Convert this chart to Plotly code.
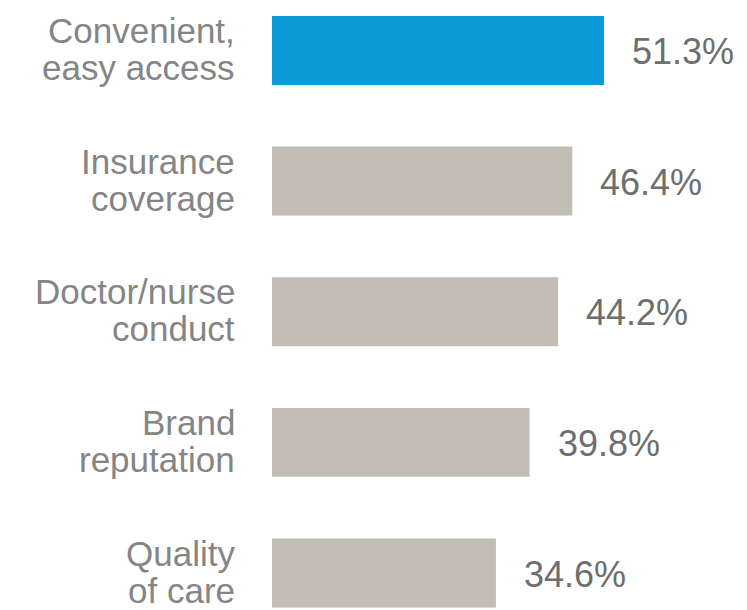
import plotly.graph_objects as go

categories = ["Convenient, easy access", "Insurance coverage", "Doctor/nurse conduct",
              "Brand reputation", "Quality of care"]
label_lines = [["Convenient,", "easy access"], ["Insurance", "coverage"],
               ["Doctor/nurse", "conduct"], ["Brand", "reputation"], ["Quality", "of care"]]
values = [51.3, 46.4, 44.2, 39.8, 34.6]
value_labels = ["51.3%", "46.4%", "44.2%", "39.8%", "34.6%"]
bar_colors = ["#0a9bd8", "#c1bcb4", "#c1bcb4", "#c1bcb4", "#c1bcb4"]

FONT = "Liberation Sans, Arial, sans-serif"

fig = go.Figure(go.Bar(
    x=values, y=categories, orientation="h",
    marker=dict(color=bar_colors, line=dict(width=0)),
    hoverinfo="skip",
))

annotations = []
for cat, lines, val, vl in zip(categories, label_lines, values, value_labels):
    annotations.append(dict(x=0, y=cat, xref="x", yref="y", text=lines[0], showarrow=False,
                            xanchor="right", yanchor="middle", xshift=-35, yshift=20,
                            font=dict(family=FONT, size=35, color="#858585")))
    annotations.append(dict(x=0, y=cat, xref="x", yref="y", text=lines[1], showarrow=False,
                            xanchor="right", yanchor="middle", xshift=-35, yshift=-17,
                            font=dict(family=FONT, size=35, color="#858585")))
    annotations.append(dict(x=val, y=cat, xref="x", yref="y", text=vl, showarrow=False,
                            xanchor="left", yanchor="middle", xshift=26, yshift=-1,
                            font=dict(family=FONT, size=36, color="#6e6e6e")))

fig.update_layout(
    width=747, height=610,
    margin=dict(l=272, r=0, t=0, b=0),
    paper_bgcolor="white", plot_bgcolor="white",
    bargap=0.472,
    showlegend=False,
    annotations=annotations,
    xaxis=dict(range=[0, 73.4], visible=False, fixedrange=True),
    yaxis=dict(type="category", categoryorder="array", categoryarray=categories,
               range=[4.283, -0.386], showticklabels=False, showgrid=False,
               zeroline=False, showline=False, ticks="", fixedrange=True),
)

fig.write_html("out.html", config={"displayModeBar": False})
